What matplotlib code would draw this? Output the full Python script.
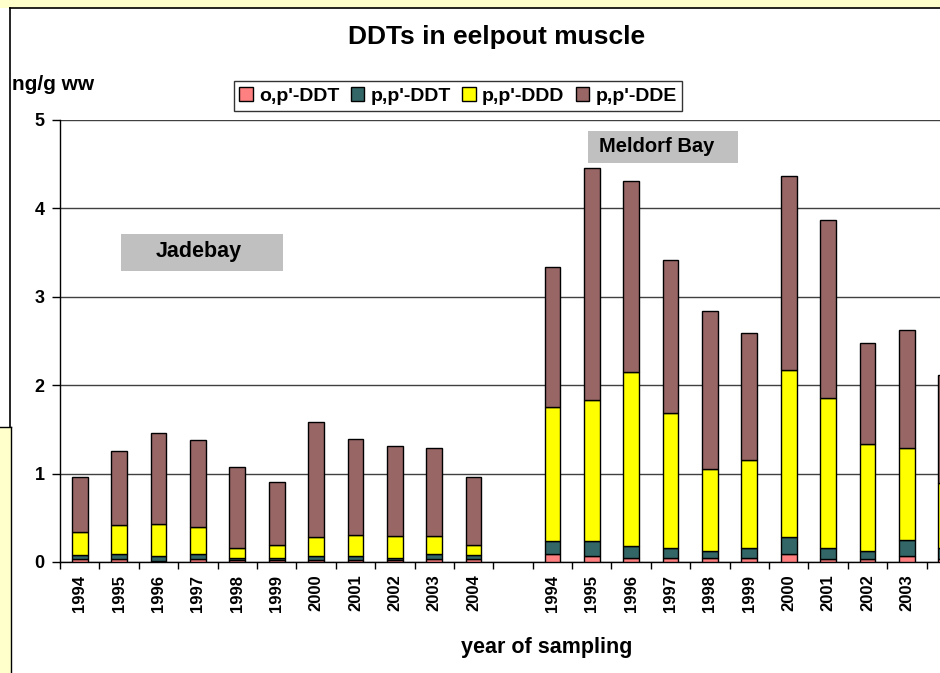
import numpy as np
import matplotlib
matplotlib.use("Agg")
from matplotlib import pyplot as plt
from matplotlib.patches import Rectangle
from matplotlib.lines import Line2D

plt.rcParams['font.family'] = ['Liberation Sans', 'DejaVu Sans']
plt.rcParams['font.weight'] = 'bold'

# data (ng/g ww)
years = ['1994', '1995', '1996', '1997', '1998', '1999', '2000', '2001', '2002', '2003', '2004']
series = ["o,p'-DDT", "p,p'-DDT", "p,p'-DDD", "p,p'-DDE"]
colors = ['#ff8080', '#336666', '#ffff00', '#996666']

# Jadebay, cumulative tops of each layer
jade_op_ddt = [0.034, 0.034, 0.012, 0.034, 0.020, 0.020, 0.020, 0.020, 0.020, 0.034, 0.034]
jade_pp_ddt = [0.079, 0.094, 0.067, 0.094, 0.049, 0.049, 0.067, 0.067, 0.049, 0.094, 0.079]
jade_pp_ddd = [0.337, 0.416, 0.431, 0.400, 0.154, 0.187, 0.281, 0.311, 0.296, 0.296, 0.187]
jade_pp_dde = [0.963, 1.258, 1.460, 1.382, 1.071, 0.903, 1.584, 1.397, 1.307, 1.292, 0.963]

# Meldorf Bay, cumulative tops (2004 is cut off at the right edge)
meld_op_ddt = [0.094, 0.071, 0.041, 0.041, 0.041, 0.041, 0.090, 0.030, 0.030, 0.071, 0.030]
meld_pp_ddt = [0.233, 0.233, 0.184, 0.154, 0.124, 0.154, 0.282, 0.154, 0.124, 0.248, 0.160]
meld_pp_ddd = [1.759, 1.835, 2.147, 1.680, 1.056, 1.150, 2.177, 1.850, 1.335, 1.290, 0.890]
meld_pp_dde = [3.335, 4.459, 4.305, 3.414, 2.838, 2.590, 4.365, 3.868, 2.477, 2.620, 2.120]

jade = np.array([jade_op_ddt, jade_pp_ddt, jade_pp_ddd, jade_pp_dde])
meld = np.array([meld_op_ddt, meld_pp_ddt, meld_pp_ddd, meld_pp_dde])
tops = np.hstack([jade, np.full((4, 1), np.nan), meld])
# the last Meldorf label falls outside the picture
labels = years + [''] + years[:-1] + ['']
x = np.arange(tops.shape[1])

fig = plt.figure(figsize=(9.4, 6.73), dpi=100)
W, H = 940, 673

# window-ish background bits
fig.add_artist(Rectangle((0, 1 - 8/H), 1, 8/H, transform=fig.transFigure,
                         fc='#ffffcc', ec='none'))
fig.add_artist(Rectangle((0, 0), 11/W, 1 - 427/H, transform=fig.transFigure,
                         fc='#ffffcc', ec='none'))
fig.add_artist(Line2D([10/W, 1], [1 - 8/H, 1 - 8/H], transform=fig.transFigure,
                      color='black', lw=1.2))
fig.add_artist(Line2D([10/W, 10/W], [1 - 427/H, 1 - 8/H], transform=fig.transFigure,
                      color='black', lw=1.2))
fig.add_artist(Line2D([0, 11/W], [1 - 427/H, 1 - 427/H], transform=fig.transFigure,
                      color='black', lw=1.0))
fig.add_artist(Line2D([11/W, 11/W], [0, 1 - 427/H], transform=fig.transFigure,
                      color='black', lw=1.0))

ax = fig.add_axes([60/W, 111/H, 906/W, 442/H])
ax.set_facecolor('none')

bottom = np.zeros(len(x))
handles = []
for i in range(4):
    h = ax.bar(x, tops[i] - bottom, bottom=bottom, width=0.4, color=colors[i],
               edgecolor='black', linewidth=1.0, label=series[i], zorder=3)
    handles.append(h)
    bottom = tops[i]

ax.set_xlim(-0.5, 22.5)
ax.set_ylim(0, 5)
ax.set_yticks([0, 1, 2, 3, 4, 5])
ax.yaxis.grid(True, color='#404040', lw=1.0, zorder=0)
ax.set_axisbelow(True)
ax.tick_params(axis='y', direction='out', length=6, width=1, pad=5, labelsize=13)

ax.set_xticks(x)
ax.set_xticklabels(labels, rotation=90, fontsize=12)
ax.set_xticks(np.arange(-0.5, 23, 1), minor=True)
ax.tick_params(axis='x', which='major', length=0, pad=9)
ax.tick_params(axis='x', which='minor', direction='out', length=5, width=1)

for s in ['top', 'right']:
    ax.spines[s].set_visible(False)
for s in ['left', 'bottom']:
    ax.spines[s].set_color('black')
    ax.spines[s].set_linewidth(1.0)

fig.text(497/W, 1 - 37/H, 'DDTs in eelpout muscle', ha='center', va='center',
         fontsize=19, fontweight='bold')
fig.text(12/W, 1 - 84/H, 'ng/g ww', ha='left', va='center', fontsize=15,
         fontweight='bold')
fig.text(547/W, 1 - 648/H, 'year of sampling', ha='center', va='center',
         fontsize=15.5, fontweight='bold')

leg = fig.legend(handles=handles, loc='center', bbox_to_anchor=(458/W, 1 - 96/H),
                 ncol=4, fontsize=14, frameon=True, fancybox=False,
                 edgecolor='black', handlelength=0.7, handleheight=0.7,
                 handletextpad=0.3, columnspacing=0.6, borderpad=0.3)
leg.get_frame().set_linewidth(1.0)
leg.set_zorder(5)

# site labels
fig.add_artist(Rectangle((121/W, 1 - 271/H), 162/W, 37/H, transform=fig.transFigure,
                         fc='#c0c0c0', ec='none', zorder=4))
fig.text(199/W, 1 - 251/H, 'Jadebay', ha='center', va='center', fontsize=15.5,
         fontweight='bold', zorder=5)
fig.add_artist(Rectangle((588/W, 1 - 163/H), 150/W, 32/H, transform=fig.transFigure,
                         fc='#c0c0c0', ec='none', zorder=4))
fig.text(599/W, 1 - 146/H, 'Meldorf Bay', ha='left', va='center', fontsize=14.5,
         fontweight='bold', zorder=5)

fig.savefig('out.png', dpi=100)
